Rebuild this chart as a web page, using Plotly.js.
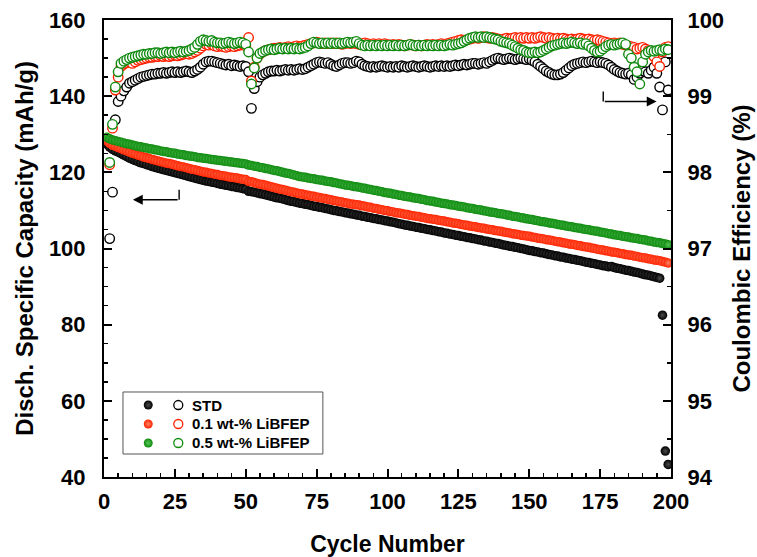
<!DOCTYPE html>
<html>
<head>
<meta charset="utf-8">
<script src="https://cdn.plot.ly/plotly-3.0.1.min.js"></script>
<style>html,body{margin:0;padding:0;background:#fff;}#chart{width:757px;height:557px;}</style>
</head>
<body>
<div id="chart"></div>
<script>
// ---------- DATA ----------
const seriesNames = ["STD", "0.1 wt-% LiBFEP", "0.5 wt-% LiBFEP"];
const nCycles = 199;
const cycles = Array.from({length: nCycles}, (_, i) => i + 1);

// Discharge specific capacity (mAh/g), cycles 1..199
const capSTD = [
127.4,126.6,126.0,125.6,125.3,124.9,124.5,124.1,123.7,123.4,
123.1,122.8,122.5,122.3,122.0,121.8,121.5,121.3,121.1,120.9,
120.7,120.5,120.3,120.1,119.9,119.7,119.5,119.3,119.1,118.9,
118.7,118.5,118.3,118.1,117.9,117.7,117.6,117.4,117.3,117.1,
116.9,116.8,116.6,116.5,116.3,116.2,116.0,115.9,115.7,115.6,
115.0,114.9,114.8,114.6,114.4,114.3,114.1,113.9,113.7,113.5,
113.3,113.2,113.0,112.8,112.6,112.4,112.3,112.1,111.9,111.8,
111.6,111.5,111.3,111.1,111.0,110.8,110.7,110.5,110.4,110.2,
110.0,109.9,109.7,109.6,109.4,109.3,109.1,109.0,108.8,108.7,
108.5,108.4,108.2,108.1,107.9,107.8,107.6,107.5,107.3,107.2,
107.0,106.9,106.7,106.5,106.4,106.2,106.1,105.9,105.8,105.6,
105.5,105.3,105.2,105.0,104.9,104.7,104.6,104.4,104.3,104.1,
104.0,103.8,103.7,103.5,103.4,103.2,103.1,102.9,102.8,102.6,
102.5,102.3,102.2,102.0,101.9,101.7,101.6,101.4,101.3,101.1,
100.9,100.8,100.6,100.5,100.3,100.2,100.0,99.9,99.7,99.5,
99.4,99.2,99.1,98.9,98.8,98.6,98.4,98.3,98.1,98.0,
97.8,97.7,97.5,97.4,97.2,97.1,96.9,96.8,96.6,96.4,
96.3,96.1,96.0,95.8,95.7,95.5,95.4,95.2,95.3,95.0,
94.8,94.7,94.5,94.3,94.2,94.0,93.8,93.7,93.5,93.3,
93.1,93.0,92.8,92.6,92.4,92.2,82.5,46.8,43.3];

const cap01 = [
128.3,127.6,127.1,126.8,126.5,126.2,125.9,125.6,125.3,125.0,
124.8,124.5,124.3,124.0,123.8,123.6,123.4,123.2,123.0,122.8,
122.6,122.4,122.3,122.1,121.9,121.7,121.5,121.4,121.2,121.0,
120.8,120.7,120.5,120.3,120.1,120.0,119.8,119.7,119.5,119.4,
119.2,119.1,119.0,118.8,118.7,118.6,118.5,118.3,118.2,118.1,
117.6,117.5,117.3,117.1,116.9,116.8,116.6,116.4,116.2,116.0,
115.8,115.6,115.5,115.3,115.1,114.9,114.8,114.6,114.4,114.3,
114.1,114.0,113.8,113.7,113.5,113.4,113.2,113.1,112.9,112.8,
112.6,112.5,112.3,112.2,112.0,111.9,111.7,111.6,111.5,111.4,
111.2,111.1,110.9,110.8,110.6,110.5,110.3,110.2,110.0,109.9,
109.7,109.6,109.4,109.3,109.2,109.0,108.9,108.7,108.6,108.5,
108.4,108.2,108.1,107.9,107.8,107.7,107.6,107.4,107.3,107.2,
107.0,106.9,106.7,106.6,106.5,106.3,106.2,106.1,105.9,105.8,
105.7,105.5,105.4,105.3,105.1,105.0,104.9,104.7,104.6,104.5,
104.3,104.2,104.1,103.9,103.8,103.7,103.5,103.4,103.3,103.2,
103.0,102.9,102.7,102.6,102.5,102.3,102.2,102.1,101.9,101.8,
101.7,101.5,101.4,101.2,101.1,101.0,100.8,100.7,100.5,100.4,
100.3,100.1,100.0,99.8,99.7,99.6,99.4,99.3,99.1,99.0,
98.9,98.7,98.6,98.4,98.3,98.2,98.0,97.9,97.7,97.6,
97.5,97.3,97.2,97.0,96.9,96.8,96.6,96.4,96.2];

const cap05 = [
129.2,128.8,128.5,128.3,128.1,127.9,127.7,127.5,127.4,127.2,
127.0,126.8,126.7,126.5,126.4,126.2,126.1,125.9,125.8,125.6,
125.5,125.4,125.2,125.1,125.0,124.8,124.7,124.6,124.4,124.3,
124.2,124.1,123.9,123.8,123.7,123.6,123.5,123.4,123.3,123.2,
123.1,123.0,122.9,122.8,122.7,122.6,122.5,122.4,122.3,122.2,
121.9,121.8,121.6,121.5,121.3,121.2,121.0,120.9,120.7,120.5,
120.4,120.2,120.0,119.8,119.7,119.5,119.3,119.1,118.9,118.8,
118.7,118.5,118.4,118.3,118.1,118.0,117.9,117.7,117.6,117.5,
117.3,117.2,117.0,116.9,116.7,116.6,116.5,116.3,116.2,116.1,
115.9,115.8,115.6,115.5,115.3,115.2,115.0,114.9,114.7,114.6,
114.5,114.3,114.2,114.0,113.9,113.7,113.6,113.5,113.3,113.2,
113.1,112.9,112.8,112.6,112.5,112.4,112.2,112.1,111.9,111.8,
111.7,111.5,111.4,111.3,111.1,111.0,110.9,110.7,110.6,110.5,
110.3,110.2,110.1,109.9,109.8,109.6,109.5,109.4,109.2,109.1,
109.0,108.8,108.7,108.5,108.4,108.3,108.1,108.0,107.8,107.7,
107.6,107.4,107.3,107.1,107.0,106.9,106.7,106.6,106.5,106.3,
106.2,106.1,105.9,105.8,105.7,105.5,105.4,105.3,105.1,105.0,
104.9,104.7,104.6,104.5,104.3,104.2,104.1,103.9,103.8,103.6,
103.5,103.4,103.2,103.1,103.0,102.8,102.7,102.6,102.4,102.3,
102.2,102.0,101.9,101.7,101.6,101.5,101.3,101.2,101.0];

// Coulombic efficiency (%), cycles 1..199 (cycle 1 below the axis range)
const ceSTD = [
null,97.13,97.74,98.69,98.93,99.00,99.07,99.12,99.17,99.19,
99.21,99.23,99.25,99.26,99.27,99.28,99.29,99.29,99.30,99.30,
99.31,99.30,99.31,99.32,99.31,99.32,99.31,99.32,99.33,99.32,
99.31,99.33,99.35,99.38,99.42,99.45,99.46,99.46,99.45,99.44,
99.43,99.42,99.41,99.42,99.40,99.41,99.40,99.39,99.40,99.39,
99.32,98.84,99.10,99.19,99.25,99.28,99.30,99.32,99.33,99.33,
99.34,99.33,99.34,99.35,99.34,99.35,99.34,99.35,99.36,99.35,
99.36,99.38,99.40,99.42,99.44,99.45,99.44,99.43,99.44,99.42,
99.40,99.39,99.41,99.43,99.44,99.44,99.43,99.44,99.46,99.45,
99.42,99.40,99.39,99.38,99.39,99.38,99.39,99.40,99.39,99.38,
99.39,99.38,99.39,99.38,99.40,99.39,99.38,99.39,99.40,99.39,
99.38,99.39,99.40,99.39,99.38,99.39,99.40,99.39,99.40,99.39,
99.40,99.39,99.40,99.41,99.40,99.41,99.42,99.41,99.42,99.43,
99.43,99.42,99.43,99.44,99.43,99.45,99.47,99.49,99.50,99.49,
99.48,99.49,99.50,99.49,99.48,99.49,99.50,99.49,99.48,99.49,
99.47,99.45,99.42,99.39,99.36,99.33,99.31,99.29,99.28,99.28,
99.29,99.31,99.34,99.37,99.40,99.42,99.43,99.44,99.45,99.44,
99.45,99.46,99.45,99.44,99.45,99.44,99.43,99.41,99.38,99.35,
99.33,99.31,99.30,99.29,99.30,99.28,99.22,99.25,99.30,99.33,
99.32,99.30,99.34,99.38,99.30,99.12,98.82,99.45,99.08];

const ce01 = [
null,98.10,98.58,99.08,99.25,99.39,99.42,99.44,99.45,99.43,
99.45,99.47,99.48,99.49,99.50,99.51,99.51,99.52,99.52,99.53,
99.52,99.53,99.52,99.53,99.54,99.53,99.54,99.55,99.56,99.55,
99.56,99.58,99.60,99.63,99.66,99.68,99.67,99.68,99.66,99.65,
99.66,99.65,99.64,99.65,99.66,99.65,99.66,99.67,99.68,99.66,
99.77,99.20,99.38,99.50,99.55,99.58,99.60,99.61,99.62,99.63,
99.63,99.64,99.63,99.64,99.65,99.64,99.65,99.66,99.65,99.66,
99.67,99.68,99.69,99.70,99.71,99.70,99.69,99.70,99.69,99.70,
99.69,99.70,99.69,99.68,99.69,99.70,99.69,99.70,99.69,99.68,
99.69,99.70,99.69,99.68,99.69,99.68,99.69,99.68,99.69,99.68,
99.67,99.68,99.67,99.68,99.67,99.66,99.67,99.68,99.67,99.66,
99.67,99.66,99.67,99.68,99.67,99.68,99.67,99.68,99.69,99.68,
99.69,99.70,99.71,99.72,99.73,99.74,99.73,99.74,99.75,99.76,
99.77,99.76,99.77,99.78,99.77,99.76,99.77,99.76,99.75,99.74,
99.75,99.76,99.75,99.76,99.77,99.76,99.77,99.76,99.77,99.76,
99.77,99.76,99.77,99.78,99.77,99.76,99.77,99.76,99.75,99.76,
99.75,99.76,99.75,99.74,99.75,99.74,99.75,99.76,99.75,99.74,
99.75,99.74,99.73,99.74,99.73,99.72,99.71,99.70,99.69,99.70,
99.69,99.70,99.68,99.67,99.66,99.65,99.64,99.62,99.63,99.64,
99.62,99.60,99.58,99.52,99.45,99.39,99.58,99.64,99.65];

const ce05 = [
null,98.13,98.63,99.12,99.32,99.43,99.46,99.48,99.50,99.51,
99.52,99.53,99.54,99.55,99.55,99.56,99.56,99.57,99.57,99.56,
99.57,99.58,99.57,99.58,99.57,99.58,99.59,99.58,99.59,99.60,
99.62,99.64,99.68,99.72,99.74,99.73,99.72,99.73,99.71,99.70,
99.70,99.69,99.70,99.71,99.70,99.69,99.70,99.71,99.70,99.68,
99.58,99.16,99.37,99.50,99.56,99.58,99.60,99.61,99.62,99.61,
99.62,99.63,99.62,99.63,99.62,99.63,99.62,99.63,99.62,99.63,
99.64,99.66,99.69,99.71,99.70,99.69,99.70,99.69,99.70,99.69,
99.70,99.69,99.70,99.69,99.70,99.71,99.70,99.71,99.72,99.69,
99.67,99.66,99.67,99.66,99.67,99.66,99.67,99.66,99.67,99.66,
99.67,99.66,99.67,99.66,99.67,99.66,99.67,99.68,99.67,99.66,
99.67,99.66,99.67,99.66,99.67,99.66,99.67,99.66,99.67,99.66,
99.67,99.68,99.67,99.68,99.69,99.70,99.72,99.74,99.76,99.77,
99.78,99.77,99.78,99.77,99.78,99.77,99.76,99.75,99.74,99.72,
99.71,99.70,99.69,99.67,99.65,99.63,99.61,99.60,99.58,99.57,
99.57,99.58,99.57,99.58,99.60,99.62,99.64,99.66,99.67,99.68,
99.69,99.70,99.69,99.70,99.71,99.70,99.69,99.70,99.68,99.69,
99.66,99.63,99.60,99.58,99.59,99.62,99.65,99.67,99.68,99.67,
99.68,99.69,99.70,99.68,99.55,99.50,99.38,99.32,99.16,99.45,
99.55,99.58,99.60,99.59,99.60,99.61,99.60,99.62,99.61];

// ---------- STYLE ----------
const colors = ["#000000", "#ff2200", "#0e8a0e"];
const highlights = ["#4c4c4c", "#ff8566", "#58c458"];
const FONT = "Liberation Sans, Arial, Helvetica, sans-serif";
const capSeries = [capSTD, cap01, cap05];
const ceSeries = [ceSTD, ce01, ce05];

const traces = [];
capSeries.forEach((ys, i) => {
  traces.push({
    x: cycles, y: ys, type: "scatter", mode: "markers", name: seriesNames[i] + " capacity",
    xaxis: "x", yaxis: "y", hoverinfo: "x+y",
    marker: {symbol: "circle", size: 9.5, color: colors[i],
             gradient: {type: "radial", color: highlights[i]}, line: {width: 0}}
  });
});
ceSeries.forEach((ys, i) => {
  traces.push({
    x: cycles, y: ys, type: "scatter", mode: "markers", name: seriesNames[i] + " efficiency",
    xaxis: "x", yaxis: "y2", hoverinfo: "x+y",
    marker: {symbol: "circle", size: 9.5, color: "#ffffff", line: {width: 1.4, color: colors[i]}}
  });
});

// custom legend (paired filled/open symbols per row)
const legRowsY = [0.1575, 0.116, 0.0744];
const legFilledX = 0.078, legOpenX = 0.131, legTextX = 0.1517;
traces.push({
  x: legRowsY.map(() => legFilledX), y: legRowsY, xaxis: "x3", yaxis: "y3",
  type: "scatter", mode: "markers", hoverinfo: "skip", cliponaxis: false,
  marker: {symbol: "circle", size: 9, color: colors,
           gradient: {type: "radial", color: highlights}, line: {width: 0}}
});
traces.push({
  x: legRowsY.map(() => legOpenX), y: legRowsY, xaxis: "x3", yaxis: "y3",
  type: "scatter", mode: "markers", hoverinfo: "skip", cliponaxis: false,
  marker: {symbol: "circle", size: 9, color: "#ffffff", line: {width: 1.3, color: colors}}
});

const axisCommon = {
  showgrid: false, zeroline: false, showline: true, linewidth: 2, linecolor: "#000",
  ticks: "inside", ticklen: 8, tickwidth: 2, tickcolor: "#000",
  tickfont: {family: FONT, size: 22, weight: "bold", color: "#000"}
};

const annotations = seriesNames.map((n, i) => ({
  xref: "paper", yref: "paper", x: legTextX, y: legRowsY[i], xanchor: "left", yanchor: "middle",
  text: n, showarrow: false, font: {family: FONT, size: 15, weight: "bold", color: "#000"}
}));
// arrows pointing to the relevant axes
annotations.push({xref: "x", yref: "y", axref: "x", ayref: "y", x: 10.2, y: 112.8, ax: 26.5, ay: 112.8,
  text: "", showarrow: true, arrowhead: 2, arrowsize: 1.4, arrowwidth: 1.4, arrowcolor: "#000"});
annotations.push({xref: "x", yref: "y2", axref: "x", ayref: "y2", x: 194.9, y: 98.93, ax: 176.1, ay: 98.93,
  text: "", showarrow: true, arrowhead: 2, arrowsize: 1.4, arrowwidth: 1.4, arrowcolor: "#000"});

const shapes = [
  {type: "rect", xref: "paper", yref: "paper", x0: 0.0335, x1: 0.386, y0: 0.0503, y1: 0.186,
   line: {color: "#555", width: 1}, fillcolor: "rgba(0,0,0,0)", layer: "below"},
  {type: "line", xref: "x", yref: "y", x0: 26.5, x1: 26.5, y0: 112.8, y1: 115.4, line: {color: "#000", width: 1.4}},
  {type: "line", xref: "x", yref: "y2", x0: 176.1, x1: 176.1, y0: 98.93, y1: 99.06, line: {color: "#000", width: 1.4}}
];

const layout = {
  width: 757, height: 557,
  margin: {l: 104, r: 86, t: 20, b: 80},
  paper_bgcolor: "#fff", plot_bgcolor: "#fff",
  showlegend: false,
  font: {family: FONT, color: "#000"},
  xaxis: Object.assign({}, axisCommon, {
    range: [0, 200], tick0: 0, dtick: 25, mirror: true, ticklabelstandoff: 4,
    minor: {dtick: 5, ticks: "inside", ticklen: 4, tickwidth: 1.5, tickcolor: "#000", showgrid: false},
    title: {text: "Cycle Number", font: {family: FONT, size: 23, weight: "bold"}, standoff: 22}
  }),
  yaxis: Object.assign({}, axisCommon, {
    range: [40, 160], tick0: 40, dtick: 20, ticklabelstandoff: 12,
    minor: {dtick: 5, ticks: "inside", ticklen: 4, tickwidth: 1.5, tickcolor: "#000", showgrid: false},
    title: {text: "Disch. Specific Capacity (mAh/g)", font: {family: FONT, size: 24, weight: "bold"}, standoff: 8}
  }),
  yaxis2: Object.assign({}, axisCommon, {
    overlaying: "y", side: "right", anchor: "x",
    range: [94, 100], tick0: 94, dtick: 1, ticklabelstandoff: 10,
    minor: {dtick: 0.5, ticks: "inside", ticklen: 4, tickwidth: 1.5, tickcolor: "#000", showgrid: false},
    title: {text: "Coulombic Efficiency (%)", font: {family: FONT, size: 24, weight: "bold"}, standoff: 10}
  }),
  xaxis3: {overlaying: "x", range: [0, 1], visible: false, fixedrange: true},
  yaxis3: {overlaying: "y", range: [0, 1], visible: false, fixedrange: true},
  annotations: annotations,
  shapes: shapes
};

Plotly.newPlot("chart", traces, layout, {displayModeBar: false, staticPlot: true});
</script>
</body>
</html>
